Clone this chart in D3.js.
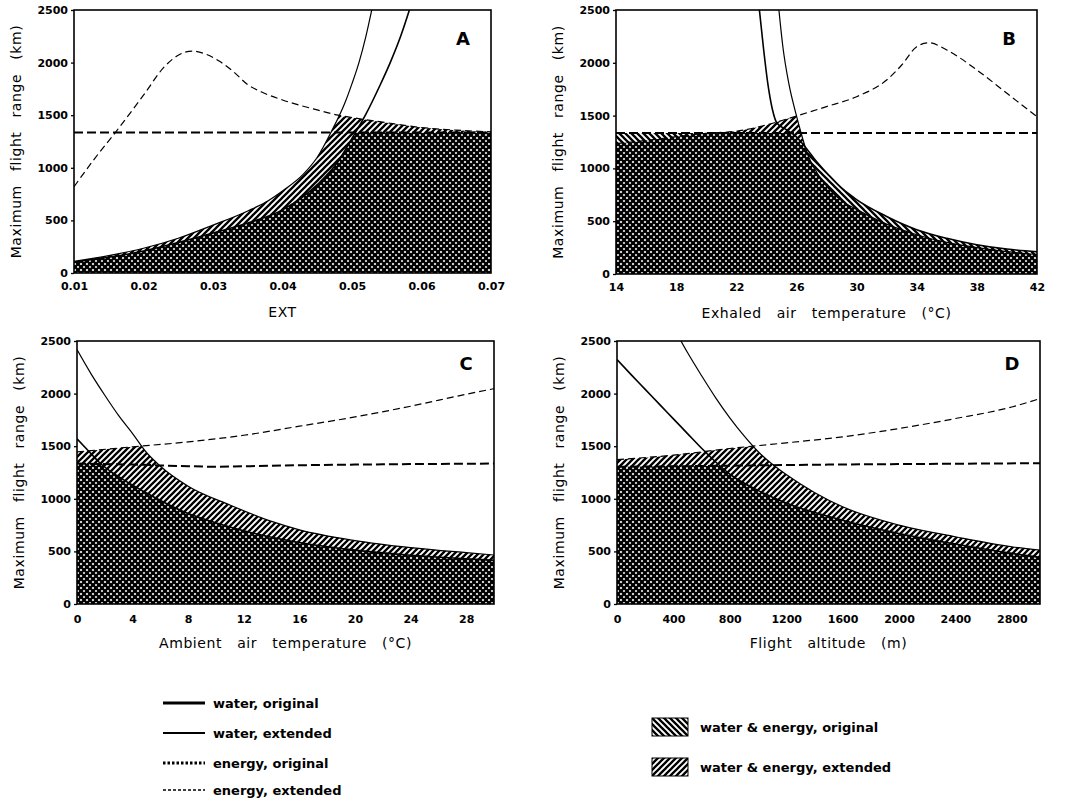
<!DOCTYPE html>
<meta charset='utf-8'>
<style>
  body { margin: 0; background: #fff; }
  text { font-family: 'DejaVu Sans', sans-serif; fill: #000; }
</style>
<div id='chart'></div>
<script src='https://d3js.org/d3.v7.min.js'></script>
<script>

  // y axis shared by all panels
  var yTicks = [0, 500, 1000, 1500, 2000, 2500];

  // panel A : EXT
  var aTicks = [0.01, 0.02, 0.03, 0.04, 0.05, 0.06, 0.07];
  var aEnergyOrig = [[0.01, 1335], [0.07, 1335]];
  var aEnergyExt = [[0.010, 820], [0.013, 1090], [0.016, 1340], [0.020, 1690], [0.023, 1960], [0.025, 2070],
    [0.027, 2110], [0.029, 2080], [0.031, 2010], [0.033, 1910], [0.035, 1790], [0.037, 1720], [0.040, 1645],
    [0.045, 1550], [0.048, 1500], [0.050, 1478], [0.055, 1428], [0.060, 1383], [0.065, 1358], [0.070, 1342]];
  var aWaterOrig = [[0.010, 105], [0.015, 150], [0.020, 210], [0.025, 290], [0.030, 380], [0.035, 475], [0.040, 600],
    [0.045, 840], [0.048, 1060], [0.050, 1280], [0.052, 1510], [0.054, 1780], [0.0555, 2000], [0.057, 2250], [0.0585, 2550]];
  var aWaterExt = [[0.010, 110], [0.015, 165], [0.020, 235], [0.025, 330], [0.030, 455], [0.035, 590], [0.038, 690],
    [0.040, 780], [0.043, 940], [0.045, 1100], [0.047, 1340], [0.049, 1620], [0.050, 1800], [0.051, 2000],
    [0.052, 2250], [0.053, 2550]];

  // panel B : exhaled air temperature
  var bTicks = [14, 18, 22, 26, 30, 34, 38, 42];
  var bEnergyOrig = [[14, 1335], [42, 1335]];
  var bEnergyExt = [[14, 1235], [16, 1265], [18, 1300], [20, 1332], [22, 1352], [24, 1411], [25.5, 1474], [26, 1496],
    [28, 1585], [30, 1679], [32, 1837], [33, 1979], [34, 2153], [34.8, 2190], [36, 2121], [38, 1932], [40, 1711], [42, 1490]];
  var bWaterOrig = [[23.5, 2550], [23.8, 2150], [24.1, 1800], [24.4, 1560], [24.7, 1430], [25.3, 1370], [26, 1300],
    [26.6, 1200], [27.2, 1090], [28.2, 930], [29, 815], [30, 705], [32, 545], [34, 420], [36, 338], [38, 277], [40, 236], [42, 211]];
  var bWaterExt = [[24.8, 2550], [25.1, 2150], [25.5, 1800], [26.0, 1500], [26.3, 1340], [26.7, 1150], [27.5, 930],
    [28.2, 800], [29, 695], [30, 612], [32, 472], [34, 372], [36, 300], [38, 250], [40, 212], [42, 185]];

  // panel C : ambient air temperature
  var cTicks = [0, 4, 8, 12, 16, 20, 24, 28];
  var cEnergyOrig = [[0, 1335], [4, 1325], [8, 1310], [10, 1305], [14, 1315], [20, 1325], [30, 1335]];
  var cEnergyExt = [[0, 1446], [4, 1494], [8, 1541], [12, 1604], [16, 1690], [20, 1778], [24, 1880], [28, 1994], [30, 2047]];
  var cWaterOrig = [[0, 1570], [1, 1430], [1.65, 1340], [3, 1210], [5, 1055], [7.4, 894], [11, 732], [14, 635],
    [16, 585], [20, 512], [24, 463], [28, 430], [30, 415]];
  var cWaterExt = [[0, 2418], [1, 2190], [2, 1984], [3, 1790], [4, 1620], [5, 1440], [6, 1310], [8, 1120], [11, 941],
    [14, 785], [16, 705], [20, 603], [24, 536], [28, 488], [30, 466]];

  // panel D : flight altitude
  var dTicks = [0, 400, 800, 1200, 1600, 2000, 2400, 2800];
  var dEnergyOrig = [[0, 1305], [500, 1310], [1000, 1318], [1500, 1325], [2000, 1330], [3000, 1338]];
  var dEnergyExt = [[0, 1373], [400, 1415], [800, 1478], [960, 1500], [1200, 1532], [1600, 1589], [2000, 1668],
    [2400, 1763], [2800, 1873], [3000, 1953]];
  var dWaterOrig = [[0, 2323], [100, 2180], [200, 2040], [300, 1900], [400, 1760], [500, 1620], [600, 1480], [700, 1350],
    [800, 1235], [900, 1150], [1000, 1080], [1200, 960], [1600, 797], [2000, 671], [2400, 570], [2800, 481], [3000, 443]];
  var dWaterExt = [[433, 2550], [500, 2390], [600, 2170], [700, 1960], [800, 1770], [900, 1600], [1000, 1450],
    [1100, 1330], [1200, 1230], [1400, 1060], [1600, 924], [2000, 750], [2400, 639], [2800, 544], [3000, 513]];

  var lineLabels = ['water, original', 'water, extended', 'energy, original', 'energy, extended'];
  var boxLabels = ['water & energy, original', 'water & energy, extended'];

  var panels = [
    {id: 'A', dom: [0.01, 0.07], ticks: aTicks, fmt: d3.format('.2f'), title: 'EXT',
     eo: aEnergyOrig, ee: aEnergyExt, wo: aWaterOrig, we: aWaterExt, l: 74, t: 10, r: 491, b: 273, pad: 9, ldy: 35},
    {id: 'B', dom: [14, 42], ticks: bTicks, fmt: d3.format('d'), title: 'Exhaled air temperature (°C)',
     eo: bEnergyOrig, ee: bEnergyExt, wo: bWaterOrig, we: bWaterExt, l: 616, t: 10, r: 1037, b: 274, pad: 9, ldy: 35},
    {id: 'C', dom: [0, 30], ticks: cTicks, fmt: d3.format('d'), title: 'Ambient air temperature (°C)',
     eo: cEnergyOrig, ee: cEnergyExt, wo: cWaterOrig, we: cWaterExt, l: 77, t: 341, r: 494, b: 604, pad: 11, ldy: 29},
    {id: 'D', dom: [0, 3000], ticks: dTicks, fmt: d3.format('d'), title: 'Flight altitude (m)',
     eo: dEnergyOrig, ee: dEnergyExt, wo: dWaterOrig, we: dWaterExt, l: 617, t: 341, r: 1040, b: 604, pad: 11, ldy: 29}
  ];

  var svg = d3.select('#chart')
    .append('svg')
      .attr('width', 1066)
      .attr('height', 807);

  var defs = svg.append('defs');
  // "\\\" hatch = original, "///" hatch = extended ; overlap gives the dark cross-hatch
  defs.append('pattern').attr('id', 'back')
      .attr('patternUnits', 'userSpaceOnUse').attr('width', 6).attr('height', 6)
    .append('path')
      .attr('d', 'M-1,-1L7,7M5,-1L7,1M-1,5L1,7')
      .attr('stroke', '#000').attr('stroke-width', 2.3);
  defs.append('pattern').attr('id', 'fwd')
      .attr('patternUnits', 'userSpaceOnUse').attr('width', 6).attr('height', 6)
    .append('path')
      .attr('d', 'M-1,7L7,-1M-1,1L1,-1M5,7L7,5')
      .attr('stroke', '#000').attr('stroke-width', 2.3);

  panels.forEach(function(p) {
    var x = d3.scaleLinear().domain(p.dom).range([p.l, p.r]);
    var y = d3.scaleLinear().domain([0, 2500]).range([p.b, p.t]);

    var area = d3.area()
      .x(function(d) { return x(d[0]); })
      .y0(y(0))
      .y1(function(d) { return y(d[1]); })
      .curve(d3.curveMonotoneX);
    var line = d3.line()
      .x(function(d) { return x(d[0]); })
      .y(function(d) { return y(d[1]); })
      .curve(d3.curveMonotoneX);

    defs.append('clipPath').attr('id', 'frame' + p.id)
      .append('rect')
        .attr('x', p.l).attr('y', p.t)
        .attr('width', p.r - p.l).attr('height', p.b - p.t);

    // region under a water curve (unbounded where the curve leaves the top)
    function waterClip(name, pts) {
      var cp = defs.append('clipPath').attr('id', name);
      cp.append('path').attr('d', area(pts));
      var first = pts[0], last = pts[pts.length - 1];
      if (first[1] >= 2500 && first[0] > p.dom[0])
        cp.append('rect').attr('x', x(p.dom[0])).attr('y', p.t - 5)
          .attr('width', x(first[0]) - x(p.dom[0]) + 0.5).attr('height', p.b - p.t + 5);
      if (last[1] >= 2500 && last[0] < p.dom[1])
        cp.append('rect').attr('x', x(last[0]) - 0.5).attr('y', p.t - 5)
          .attr('width', x(p.dom[1]) - x(last[0]) + 0.5).attr('height', p.b - p.t + 5);
    }
    waterClip('wo' + p.id, p.wo);
    waterClip('we' + p.id, p.we);

    var g = svg.append('g').attr('clip-path', 'url(#frame' + p.id + ')');

    g.append('g').attr('clip-path', 'url(#wo' + p.id + ')')
      .append('path')
        .attr('d', area(p.eo))
        .attr('fill', 'url(#back)');
    g.append('g').attr('clip-path', 'url(#we' + p.id + ')')
      .append('path')
        .attr('d', area(p.ee))
        .attr('fill', 'url(#fwd)');

    g.append('path').attr('d', line(p.eo))
      .attr('fill', 'none').attr('stroke', '#000')
      .attr('stroke-width', 2).attr('stroke-dasharray', '9,4');
    g.append('path').attr('d', line(p.ee))
      .attr('fill', 'none').attr('stroke', '#000')
      .attr('stroke-width', 1.2).attr('stroke-dasharray', '7,4');
    g.append('path').attr('d', line(p.wo))
      .attr('fill', 'none').attr('stroke', '#000').attr('stroke-width', 1.6);
    g.append('path').attr('d', line(p.we))
      .attr('fill', 'none').attr('stroke', '#000').attr('stroke-width', 1.2);

    svg.append('rect')
      .attr('x', p.l).attr('y', p.t)
      .attr('width', p.r - p.l).attr('height', p.b - p.t)
      .attr('fill', 'none').attr('stroke', '#000').attr('stroke-width', 1.6);

    var ya = svg.append('g')
      .attr('transform', 'translate(' + p.l + ',0)')
      .call(d3.axisLeft(y).tickValues(yTicks).tickFormat(d3.format('d')).tickSize(3).tickPadding(3));
    var xa = svg.append('g')
      .attr('transform', 'translate(0,' + p.b + ')')
      .call(d3.axisBottom(x).tickValues(p.ticks).tickFormat(p.fmt).tickSize(0).tickPadding(p.pad));
    [ya, xa].forEach(function(a) {
      a.select('.domain').remove();
      a.selectAll('line').attr('stroke', '#000').attr('stroke-width', 1.3);
      a.selectAll('text')
        .attr('fill', '#000')
        .style('font-family', "'DejaVu Sans', sans-serif")
        .style('font-weight', 'bold')
        .style('font-size', '11px');
    });

    svg.append('text')
      .attr('x', (p.l + p.r) / 2)
      .attr('y', p.b + 44)
      .attr('text-anchor', 'middle')
      .style('font-size', '14px')
      .style('letter-spacing', '0.6px')
      .style('word-spacing', '10px')
      .text(p.title);

    svg.append('text')
      .attr('transform', 'translate(' + (p.l - 53) + ',' + ((p.t + p.b) / 2) + ') rotate(-90)')
      .attr('text-anchor', 'middle')
      .style('font-size', '14px')
      .style('letter-spacing', '0.6px')
      .style('word-spacing', '9px')
      .text('Maximum flight range (km)');

    svg.append('text')
      .attr('x', p.r - 28)
      .attr('y', p.t + p.ldy)
      .attr('text-anchor', 'middle')
      .style('font-size', '18px')
      .style('font-weight', 'bold')
      .text(p.id);
  });

  // legend : line styles
  var lineStyles = [
    {w: 3, dash: null},
    {w: 1.8, dash: null},
    {w: 3, dash: '2.5,2'},
    {w: 1.4, dash: '3,2'}
  ];
  var legRows = [703, 733, 763, 790];
  lineLabels.forEach(function(lab, i) {
    svg.append('line')
      .attr('x1', 163).attr('x2', 205)
      .attr('y1', legRows[i]).attr('y2', legRows[i])
      .attr('stroke', '#000')
      .attr('stroke-width', lineStyles[i].w)
      .attr('stroke-dasharray', lineStyles[i].dash);
    svg.append('text')
      .attr('x', 213).attr('y', legRows[i] + 5)
      .style('font-size', '13px').style('font-weight', 'bold')
      .text(lab);
  });

  // legend : hatch boxes
  var boxRows = [727, 767];
  var boxFills = ['url(#back)', 'url(#fwd)'];
  boxLabels.forEach(function(lab, i) {
    svg.append('rect')
      .attr('x', 652).attr('y', boxRows[i] - 9)
      .attr('width', 36).attr('height', 18)
      .attr('fill', boxFills[i])
      .attr('stroke', '#000').attr('stroke-width', 1);
    svg.append('text')
      .attr('x', 700).attr('y', boxRows[i] + 5)
      .style('font-size', '13px').style('font-weight', 'bold')
      .text(lab);
  });

</script>
